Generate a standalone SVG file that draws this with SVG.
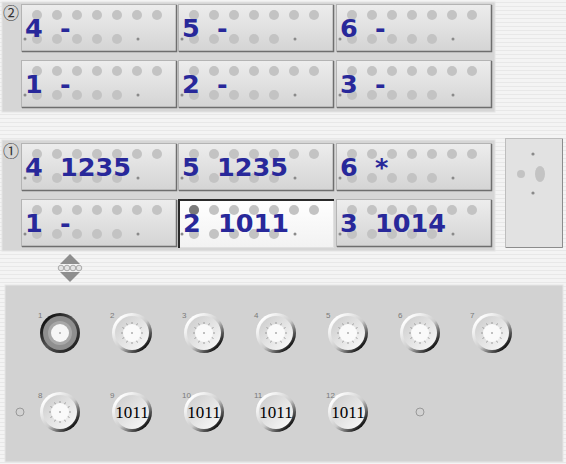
<svg xmlns="http://www.w3.org/2000/svg" xmlns:xlink="http://www.w3.org/1999/xlink" width="566" height="464" viewBox="0 0 566 464">
<style>
.panel{fill:#d6d6d6;stroke:#e4e4e4;stroke-width:1}
.btn{fill:url(#btnGrad);stroke:#b4b4b4;stroke-width:1}
.btnEdge{fill:none;stroke:#6e6e6e;stroke-width:1.5}
.btnSel{fill:url(#selGrad);stroke:#e0e0e0;stroke-width:1}
.selEdge{fill:none;stroke:#2a2a2a;stroke-width:2}
.lbl{font-family:"DejaVu Sans",Verdana,sans-serif;font-weight:bold;font-size:25.5px;fill:#28289a}
.circ{font-family:"Noto Sans CJK JP","DejaVu Sans",sans-serif;font-size:16px;fill:#333}
.dot{fill:#c3c3c3}
.tiny{fill:#8a8a8a}
.klbl{font-family:"Liberation Sans",Arial,sans-serif;font-size:8px;fill:#7a7a7a}
.kval{font-family:"Liberation Serif","Times New Roman",serif;font-size:17px;fill:#000;text-anchor:middle}
.ticks{fill:none;stroke:#8a8a8a;stroke-width:0.8}
</style>
<defs>
<pattern id="stripes" width="6" height="4" patternUnits="userSpaceOnUse">
<rect width="6" height="4" fill="#f4f4f4"/>
<rect y="2" width="6" height="1" fill="#e8e8e8"/>
</pattern>
<linearGradient id="btnGrad" x1="0" y1="0" x2="0" y2="1">
<stop offset="0" stop-color="#ededed"/>
<stop offset="1" stop-color="#d4d4d4"/>
</linearGradient>
<linearGradient id="selGrad" x1="0" y1="0" x2="0" y2="1">
<stop offset="0" stop-color="#ffffff"/>
<stop offset="1" stop-color="#f2f2f2"/>
</linearGradient>
<linearGradient id="rim" x1="0.15" y1="0.15" x2="0.85" y2="0.85">
<stop offset="0" stop-color="#ffffff"/>
<stop offset="0.55" stop-color="#cccccc"/>
<stop offset="1" stop-color="#111111"/>
</linearGradient>
<linearGradient id="face" x1="0.15" y1="0.15" x2="0.85" y2="0.85">
<stop offset="0" stop-color="#d2d2d2"/>
<stop offset="1" stop-color="#f4f4f4"/>
</linearGradient>
<linearGradient id="rimDark" x1="0.15" y1="0.15" x2="0.85" y2="0.85">
<stop offset="0" stop-color="#111"/>
<stop offset="0.5" stop-color="#555"/>
<stop offset="1" stop-color="#222"/>
</linearGradient>
<g id="dots">
<circle class="dot" cx="16" cy="11" r="5"/><circle class="dot" cx="36" cy="11" r="5"/><circle class="dot" cx="56" cy="11" r="5"/><circle class="dot" cx="76" cy="11" r="5"/><circle class="dot" cx="96" cy="11" r="5"/><circle class="dot" cx="116" cy="11" r="5"/><circle class="dot" cx="136" cy="11" r="5"/>
<circle class="dot" cx="16" cy="35" r="5"/><circle class="dot" cx="36" cy="35" r="5"/><circle class="dot" cx="56" cy="35" r="5"/><circle class="dot" cx="76" cy="35" r="5"/><circle class="dot" cx="96" cy="35" r="5"/>
<circle class="tiny" cx="4" cy="35" r="1.5"/><circle class="tiny" cx="117" cy="35" r="1.5"/>
</g>
<g id="btn">
<rect class="btn" x="0.5" y="0.5" width="155" height="47"/>
<path class="btnEdge" d="M1 47.5H155.5V1"/>
<use xlink:href="#dots"/>
</g>
<path id="tk" class="ticks" d="M9 0H11M7.79 4.5L9.53 5.5M4.5 7.79L5.5 9.53M0 9V11M-4.5 7.79L-5.5 9.53M-7.79 4.5L-9.53 5.5M-9 0H-11M-7.79 -4.5L-9.53 -5.5M-4.5 -7.79L-5.5 -9.53M0 -9V-11M4.5 -7.79L5.5 -9.53M7.79 -4.5L9.53 -5.5"/>
<g id="knob">
<circle r="20" fill="url(#rim)"/>
<circle r="17" fill="url(#face)"/>
<circle r="9" fill="#fafafa"/>
<use xlink:href="#tk"/>
<circle r="0.8" fill="#777"/>
</g>
<g id="knobVal">
<circle r="20" fill="url(#rim)"/>
<circle r="17" fill="url(#face)"/>
</g>
</defs>

<rect width="566" height="464" fill="url(#stripes)"/>

<g id="panel2">
<rect class="panel" x="2" y="2" width="493" height="110"/>
<text class="circ" x="3" y="19">②</text>
<g id="p2-4" transform="translate(21,4)"><use xlink:href="#btn"/><text class="lbl" x="4" y="33">4</text><text class="lbl" x="39" y="33">-</text></g>
<g id="p2-5" transform="translate(178,4)"><use xlink:href="#btn"/><text class="lbl" x="4" y="33">5</text><text class="lbl" x="39" y="33">-</text></g>
<g id="p2-6" transform="translate(336,4)"><use xlink:href="#btn"/><text class="lbl" x="4" y="33">6</text><text class="lbl" x="39" y="33">-</text></g>
<g id="p2-1" transform="translate(21,60)"><use xlink:href="#btn"/><text class="lbl" x="4" y="33">1</text><text class="lbl" x="39" y="33">-</text></g>
<g id="p2-2" transform="translate(178,60)"><use xlink:href="#btn"/><text class="lbl" x="4" y="33">2</text><text class="lbl" x="39" y="33">-</text></g>
<g id="p2-3" transform="translate(336,60)"><use xlink:href="#btn"/><text class="lbl" x="4" y="33">3</text><text class="lbl" x="39" y="33">-</text></g>
</g>

<g id="panel1">
<rect class="panel" x="2" y="140" width="493" height="111"/>
<text class="circ" x="3" y="157">①</text>
<g id="p1-4" transform="translate(21,143)"><use xlink:href="#btn"/><text class="lbl" x="4" y="33">4</text><text class="lbl" x="39" y="33">1235</text></g>
<g id="p1-5" transform="translate(178,143)"><use xlink:href="#btn"/><text class="lbl" x="4" y="33">5</text><text class="lbl" x="39" y="33">1235</text></g>
<g id="p1-6" transform="translate(336,143)"><use xlink:href="#btn"/><text class="lbl" x="4" y="33">6</text><text class="lbl" x="39" y="33">*</text></g>
<g id="p1-1" transform="translate(21,199)"><use xlink:href="#btn"/><text class="lbl" x="4" y="33">1</text><text class="lbl" x="39" y="33">-</text></g>
<g id="p1-2" transform="translate(178,199)">
<rect class="btnSel" x="0.5" y="0.5" width="155" height="48"/>
<path class="selEdge" d="M1 49V1H156"/>
<use xlink:href="#dots"/>
<circle cx="16" cy="11" r="5" fill="#7a7a7a"/>
<text class="lbl" x="5" y="33">2</text><text class="lbl" x="40" y="33">1011</text></g>
<g id="p1-3" transform="translate(336,199)"><use xlink:href="#btn"/><text class="lbl" x="4" y="33">3</text><text class="lbl" x="39" y="33">1014</text></g>
</g>

<g id="sidePanel">
<rect x="505.5" y="138.5" width="57" height="109" fill="#e2e2e2" stroke="#bdbdbd"/>
<path d="M506 247.5H562.5V139" fill="none" stroke="#8c8c8c"/>
<circle cx="533" cy="154" r="1.6" fill="#8a8a8a"/>
<ellipse cx="540" cy="174" rx="5" ry="8" fill="#c3c3c3"/>
<circle cx="521" cy="174" r="4" fill="#c3c3c3"/>
<circle cx="533" cy="193" r="1.6" fill="#8a8a8a"/>
</g>

<g id="spinner">
<path d="M70 254L80 264H60Z" fill="#8e8e8e"/>
<path d="M70 282L80 272H60Z" fill="#8e8e8e"/>
<circle cx="61" cy="268" r="2.8" fill="#e4e4e4" stroke="#999" stroke-width="0.8"/>
<circle cx="67" cy="268" r="2.8" fill="#e4e4e4" stroke="#999" stroke-width="0.8"/>
<circle cx="73" cy="268" r="2.8" fill="#e4e4e4" stroke="#999" stroke-width="0.8"/>
<circle cx="79" cy="268" r="2.8" fill="#e4e4e4" stroke="#999" stroke-width="0.8"/>
</g>

<g id="knobPanel">
<rect x="5" y="285" width="558" height="177" fill="#d2d2d2" stroke="#e6e6e6"/>
<circle cx="20" cy="412" r="4" fill="none" stroke="#999" stroke-width="1"/>
<circle cx="420" cy="412" r="4" fill="none" stroke="#999" stroke-width="1"/>
</g>

<g id="knob1" transform="translate(60,333)">
<circle r="20" fill="url(#rimDark)"/>
<circle r="17" fill="#8f8f8f"/>
<circle r="12" fill="#a8a8a8"/>
<circle r="9" fill="#f6f6f6"/>
<circle r="0.8" fill="#777"/>
<text class="klbl" x="-22" y="-15">1</text>
</g>
<g id="knob2" transform="translate(132,333)"><use xlink:href="#knob"/><text class="klbl" x="-22" y="-15">2</text></g>
<g id="knob3" transform="translate(204,333)"><use xlink:href="#knob"/><text class="klbl" x="-22" y="-15">3</text></g>
<g id="knob4" transform="translate(276,333)"><use xlink:href="#knob"/><text class="klbl" x="-22" y="-15">4</text></g>
<g id="knob5" transform="translate(348,333)"><use xlink:href="#knob"/><text class="klbl" x="-22" y="-15">5</text></g>
<g id="knob6" transform="translate(420,333)"><use xlink:href="#knob"/><text class="klbl" x="-22" y="-15">6</text></g>
<g id="knob7" transform="translate(492,333)"><use xlink:href="#knob"/><text class="klbl" x="-22" y="-15">7</text></g>
<g id="knob8" transform="translate(60,412)"><use xlink:href="#knob"/><text class="klbl" x="-22" y="-14">8</text></g>
<g id="knob9" transform="translate(132,412)"><use xlink:href="#knobVal"/><text class="klbl" x="-22" y="-14">9</text><text class="kval" x="0" y="6">1011</text></g>
<g id="knob10" transform="translate(204,412)"><use xlink:href="#knobVal"/><text class="klbl" x="-22" y="-14">10</text><text class="kval" x="0" y="6">1011</text></g>
<g id="knob11" transform="translate(276,412)"><use xlink:href="#knobVal"/><text class="klbl" x="-22" y="-14">11</text><text class="kval" x="0" y="6">1011</text></g>
<g id="knob12" transform="translate(348,412)"><use xlink:href="#knobVal"/><text class="klbl" x="-22" y="-14">12</text><text class="kval" x="0" y="6">1011</text></g>

<g id="connectors"/>
</svg>
